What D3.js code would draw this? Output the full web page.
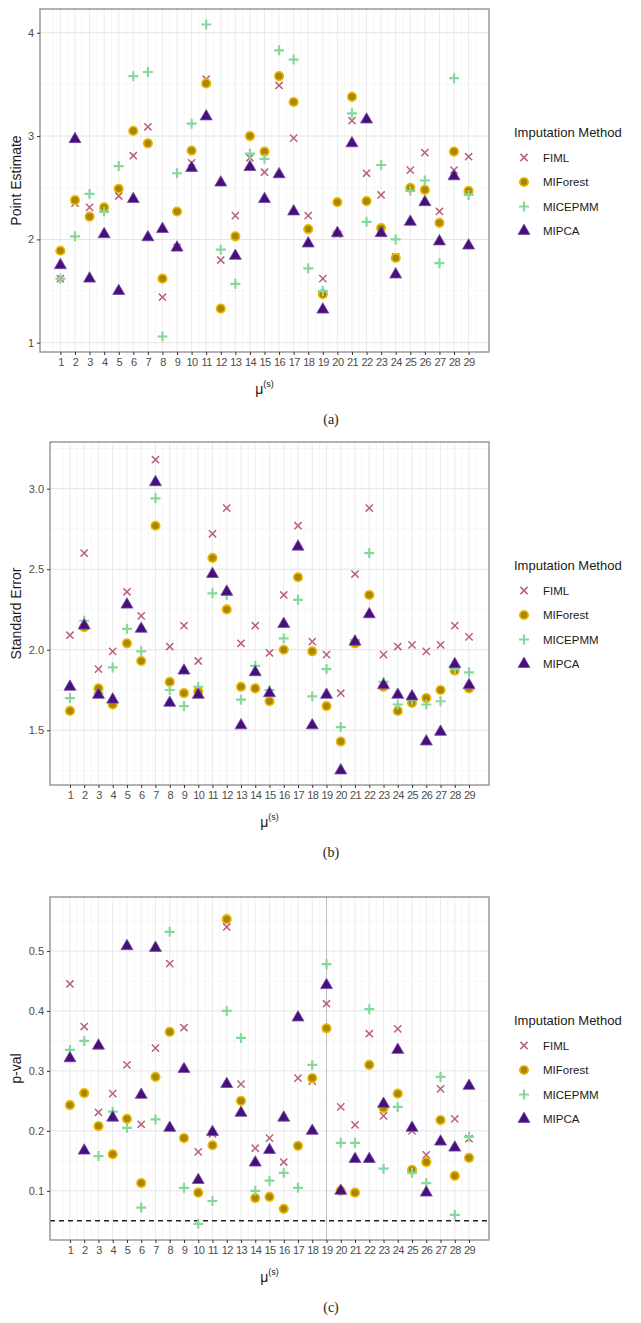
<!DOCTYPE html>
<html>
<head>
<meta charset="utf-8">
<script src="https://cdn.jsdelivr.net/npm/d3@7"></script>
<style>
  body { margin: 0; background: #fff; }
  svg { display: block; font-family: "Liberation Sans", Arial, sans-serif; }
</style>
</head>
<body>
<div id="chart"></div>
<script>
// categories mu^(s) = 1..29
var cats = d3.range(1, 30);
var methods = ["FIML", "MIForest", "MICEPMM", "MIPCA"];

// (a) point estimates
var estFIML     = [1.62, 2.35, 2.31, 2.29, 2.42, 2.81, 3.09, 1.44, 1.92, 2.74, 3.55, 1.80, 2.23, 2.79, 2.65, 3.49, 2.98, 2.23, 1.62, 2.05, 3.15, 2.64, 2.43, 1.83, 2.67, 2.84, 2.27, 2.67, 2.80];
var estMIForest = [1.89, 2.38, 2.22, 2.31, 2.49, 3.05, 2.93, 1.62, 2.27, 2.86, 3.51, 1.33, 2.03, 3.00, 2.85, 3.58, 3.33, 2.10, 1.47, 2.36, 3.38, 2.37, 2.11, 1.82, 2.50, 2.48, 2.16, 2.85, 2.47];
var estMICEPMM  = [1.62, 2.03, 2.44, 2.27, 2.71, 3.58, 3.62, 1.06, 2.64, 3.12, 4.08, 1.90, 1.57, 2.83, 2.78, 3.83, 3.74, 1.72, 1.50, 2.07, 3.22, 2.17, 2.72, 2.00, 2.47, 2.57, 1.77, 3.56, 2.43];
var estMIPCA    = [1.75, 2.97, 1.62, 2.05, 1.50, 2.39, 2.02, 2.10, 1.92, 2.69, 3.19, 2.55, 1.84, 2.70, 2.39, 2.63, 2.27, 1.96, 1.32, 2.06, 2.93, 3.16, 2.06, 1.66, 2.17, 2.36, 1.98, 2.61, 1.94];

// (b) standard errors
var seFIML     = [2.09, 2.60, 1.88, 1.99, 2.36, 2.21, 3.18, 2.02, 2.15, 1.93, 2.72, 2.88, 2.04, 2.15, 1.98, 2.34, 2.77, 2.05, 1.97, 1.73, 2.47, 2.88, 1.97, 2.02, 2.03, 1.99, 2.03, 2.15, 2.08];
var seMIForest = [1.62, 2.14, 1.76, 1.66, 2.04, 1.93, 2.77, 1.80, 1.73, 1.74, 2.57, 2.25, 1.77, 1.76, 1.68, 2.00, 2.45, 1.99, 1.65, 1.43, 2.04, 2.34, 1.77, 1.62, 1.67, 1.70, 1.75, 1.87, 1.76];
var seMICEPMM  = [1.70, 2.18, 1.73, 1.89, 2.13, 1.99, 2.94, 1.75, 1.65, 1.77, 2.35, 2.34, 1.69, 1.90, 1.75, 2.07, 2.31, 1.71, 1.88, 1.52, 2.06, 2.60, 1.80, 1.66, 1.69, 1.66, 1.68, 1.88, 1.86];
var seMIPCA    = [1.77, 2.15, 1.72, 1.69, 2.28, 2.13, 3.04, 1.67, 1.87, 1.72, 2.47, 2.36, 1.53, 1.86, 1.73, 2.16, 2.64, 1.53, 1.72, 1.25, 2.05, 2.22, 1.78, 1.72, 1.71, 1.43, 1.49, 1.91, 1.78];

// (c) p-values
var pFIML     = [0.445, 0.374, 0.231, 0.262, 0.310, 0.211, 0.338, 0.479, 0.372, 0.165, 0.195, 0.540, 0.278, 0.171, 0.188, 0.148, 0.288, 0.283, 0.412, 0.240, 0.210, 0.362, 0.225, 0.370, 0.200, 0.160, 0.270, 0.220, 0.187];
var pMIForest = [0.243, 0.263, 0.208, 0.161, 0.220, 0.113, 0.290, 0.365, 0.188, 0.097, 0.176, 0.553, 0.250, 0.088, 0.090, 0.070, 0.175, 0.288, 0.371, 0.100, 0.097, 0.310, 0.238, 0.262, 0.135, 0.148, 0.218, 0.125, 0.155];
var pMICEPMM  = [0.335, 0.350, 0.158, 0.232, 0.205, 0.072, 0.219, 0.532, 0.105, 0.045, 0.083, 0.400, 0.355, 0.100, 0.117, 0.130, 0.105, 0.310, 0.478, 0.180, 0.180, 0.403, 0.137, 0.240, 0.130, 0.113, 0.290, 0.060, 0.190];
var pMIPCA    = [0.321, 0.167, 0.342, 0.222, 0.508, 0.260, 0.505, 0.205, 0.303, 0.118, 0.198, 0.278, 0.230, 0.147, 0.168, 0.222, 0.389, 0.200, 0.443, 0.100, 0.153, 0.153, 0.245, 0.335, 0.205, 0.097, 0.182, 0.172, 0.275];

var yTicksA = [1, 2, 3, 4];
var yTicksB = [1.5, 2.0, 2.5, 3.0];
var yTicksC = [0.1, 0.2, 0.3, 0.4, 0.5];
var pCutoff = 0.05;

var W = 641, H = 1323;
var colors = { FIML: "#b8607c", MIForest: "#e8b800", MICEPMM: "#86d79b", MIPCA: "#46107a" };

var svg = d3.select("#chart").append("svg").attr("width", W).attr("height", H);

var panels = [
  { top: 9,   left: 40, dom: [0.91, 4.23], ticks: yTicksA, fmt: d3.format("d"),   title: "Point Estimate", cap: "(a)",
    series: [estFIML, estMIForest, estMICEPMM, estMIPCA] },
  { top: 442, left: 50, dom: [1.16, 3.29], ticks: yTicksB, fmt: d3.format(".1f"), title: "Standard Error", cap: "(b)",
    series: [seFIML, seMIForest, seMICEPMM, seMIPCA] },
  { top: 897, left: 50, dom: [0.018, 0.59], ticks: yTicksC, fmt: d3.format(".1f"), title: "p-val", cap: "(c)",
    series: [pFIML, pMIForest, pMICEPMM, pMIPCA], cutoff: pCutoff }
];

function drawMark(g, m, x, y) {
  var c = colors[m];
  if (m === "FIML") {
    var s = 3.6;
    g.append("path").attr("d", "M" + (x - s) + "," + (y - s) + "L" + (x + s) + "," + (y + s) + "M" + (x - s) + "," + (y + s) + "L" + (x + s) + "," + (y - s))
      .attr("stroke", c).attr("stroke-width", 1.5).attr("fill", "none");
  } else if (m === "MIForest") {
    g.append("circle").attr("cx", x).attr("cy", y).attr("r", 4.2)
      .attr("fill", "#a98400").attr("stroke", c).attr("stroke-width", 1.8);
  } else if (m === "MICEPMM") {
    var t = 5;
    g.append("path").attr("d", "M" + (x - t) + "," + y + "L" + (x + t) + "," + y + "M" + x + "," + (y - t) + "L" + x + "," + (y + t))
      .attr("stroke", c).attr("stroke-width", 2.2).attr("fill", "none");
  } else {
    g.append("path").attr("transform", "translate(" + x + "," + y + ")")
      .attr("d", d3.symbol().type(d3.symbolTriangle).size(62)())
      .attr("fill", c).attr("stroke", "#7a4aa8").attr("stroke-width", 0.8);
  }
}

panels.forEach(function (p) {
  var right = 489, h = 343, bottom = p.top + h;
  var x = d3.scaleLinear().domain([1 - 1.4, 29 + 1.4]).range([p.left, right]);
  var y = d3.scaleLinear().domain(p.dom).range([bottom, p.top]);
  var g = svg.append("g");

  // grid
  var step = p.ticks[1] - p.ticks[0];
  var minor = d3.range(p.ticks[0] - step / 2, p.dom[1], step).filter(function (v) { return v > p.dom[0]; });
  g.selectAll(".hmin").data(minor).enter().append("line")
    .attr("x1", p.left).attr("x2", right).attr("y1", y).attr("y2", y)
    .attr("stroke", "#f2f2f2").attr("stroke-width", 0.6);
  g.selectAll(".vmin").data(d3.range(0.5, 30, 1)).enter().append("line")
    .attr("x1", x).attr("x2", x).attr("y1", p.top).attr("y2", bottom)
    .attr("stroke", "#f0f0f0").attr("stroke-width", 0.6);
  g.selectAll(".vmaj").data(cats).enter().append("line")
    .attr("x1", x).attr("x2", x).attr("y1", p.top).attr("y2", bottom)
    .attr("stroke", "#e6e6e6").attr("stroke-width", 0.8);
  g.selectAll(".hmaj").data(p.ticks).enter().append("line")
    .attr("x1", p.left).attr("x2", right).attr("y1", y).attr("y2", y)
    .attr("stroke", "#e3e3e3").attr("stroke-width", 1);
  if (p.cutoff) {
    g.append("line").attr("x1", x(19)).attr("x2", x(19)).attr("y1", p.top).attr("y2", bottom)
      .attr("stroke", "#bdbdbd").attr("stroke-width", 1);
    g.append("line").attr("x1", p.left).attr("x2", right).attr("y1", y(p.cutoff)).attr("y2", y(p.cutoff))
      .attr("stroke", "#222").attr("stroke-width", 1.6).attr("stroke-dasharray", "5,4");
  }

  // points
  var pg = g.append("g");
  methods.forEach(function (m, i) {
    p.series[i].forEach(function (v, j) { drawMark(pg, m, x(cats[j]), y(v)); });
  });

  g.append("rect").attr("x", p.left).attr("y", p.top).attr("width", right - p.left).attr("height", h)
    .attr("fill", "none").attr("stroke", "#8a8a8a").attr("stroke-width", 1.3);

  // axes
  var xa = g.append("g").attr("transform", "translate(0," + bottom + ")")
    .call(d3.axisBottom(x).tickValues(cats).tickFormat(d3.format("d")).tickSize(3).tickPadding(3));
  var ya = g.append("g").attr("transform", "translate(" + p.left + ",0)")
    .call(d3.axisLeft(y).tickValues(p.ticks).tickFormat(p.fmt).tickSize(3).tickPadding(3));
  [xa, ya].forEach(function (a) {
    a.select(".domain").remove();
    a.selectAll(".tick line").attr("stroke", "#333");
    a.selectAll("text").attr("fill", "#4d4d4d").style("font-size", "11px");
  });
  xa.selectAll("text").style("letter-spacing", "-0.6px");

  g.append("text").attr("transform", "translate(16," + (p.top + h / 2) + ") rotate(-90)")
    .attr("text-anchor", "middle").attr("dy", "0.35em").attr("fill", "#1a1a1a")
    .style("font-size", "14px").text(p.title);

  var xt = g.append("text").attr("x", (p.left + right) / 2).attr("y", bottom + 42)
    .attr("text-anchor", "middle").attr("fill", "#1a1a1a").style("font-size", "14px");
  xt.append("tspan").text("\u03bc");
  xt.append("tspan").attr("dy", -7).style("font-size", "9px").text("(s)");

  g.append("text").attr("x", 331).attr("y", bottom + 72).attr("text-anchor", "middle")
    .attr("fill", "#222").style("font-family", "'Liberation Serif', serif").style("font-size", "14px").text(p.cap);

  // legend
  var cy = p.top + h / 2;
  var lg = g.append("g");
  lg.append("text").attr("x", 514).attr("y", cy - 44).attr("fill", "#1a1a1a")
    .style("font-size", "13px").text("Imputation Method");
  methods.forEach(function (m, i) {
    var ly = cy - 23 + i * 24.5;
    drawMark(lg, m, 524, ly);
    lg.append("text").attr("x", 543).attr("y", ly).attr("dy", "0.35em").attr("fill", "#1a1a1a")
      .style("font-size", "11.5px").text(m);
  });
});
</script>
</body>
</html>
